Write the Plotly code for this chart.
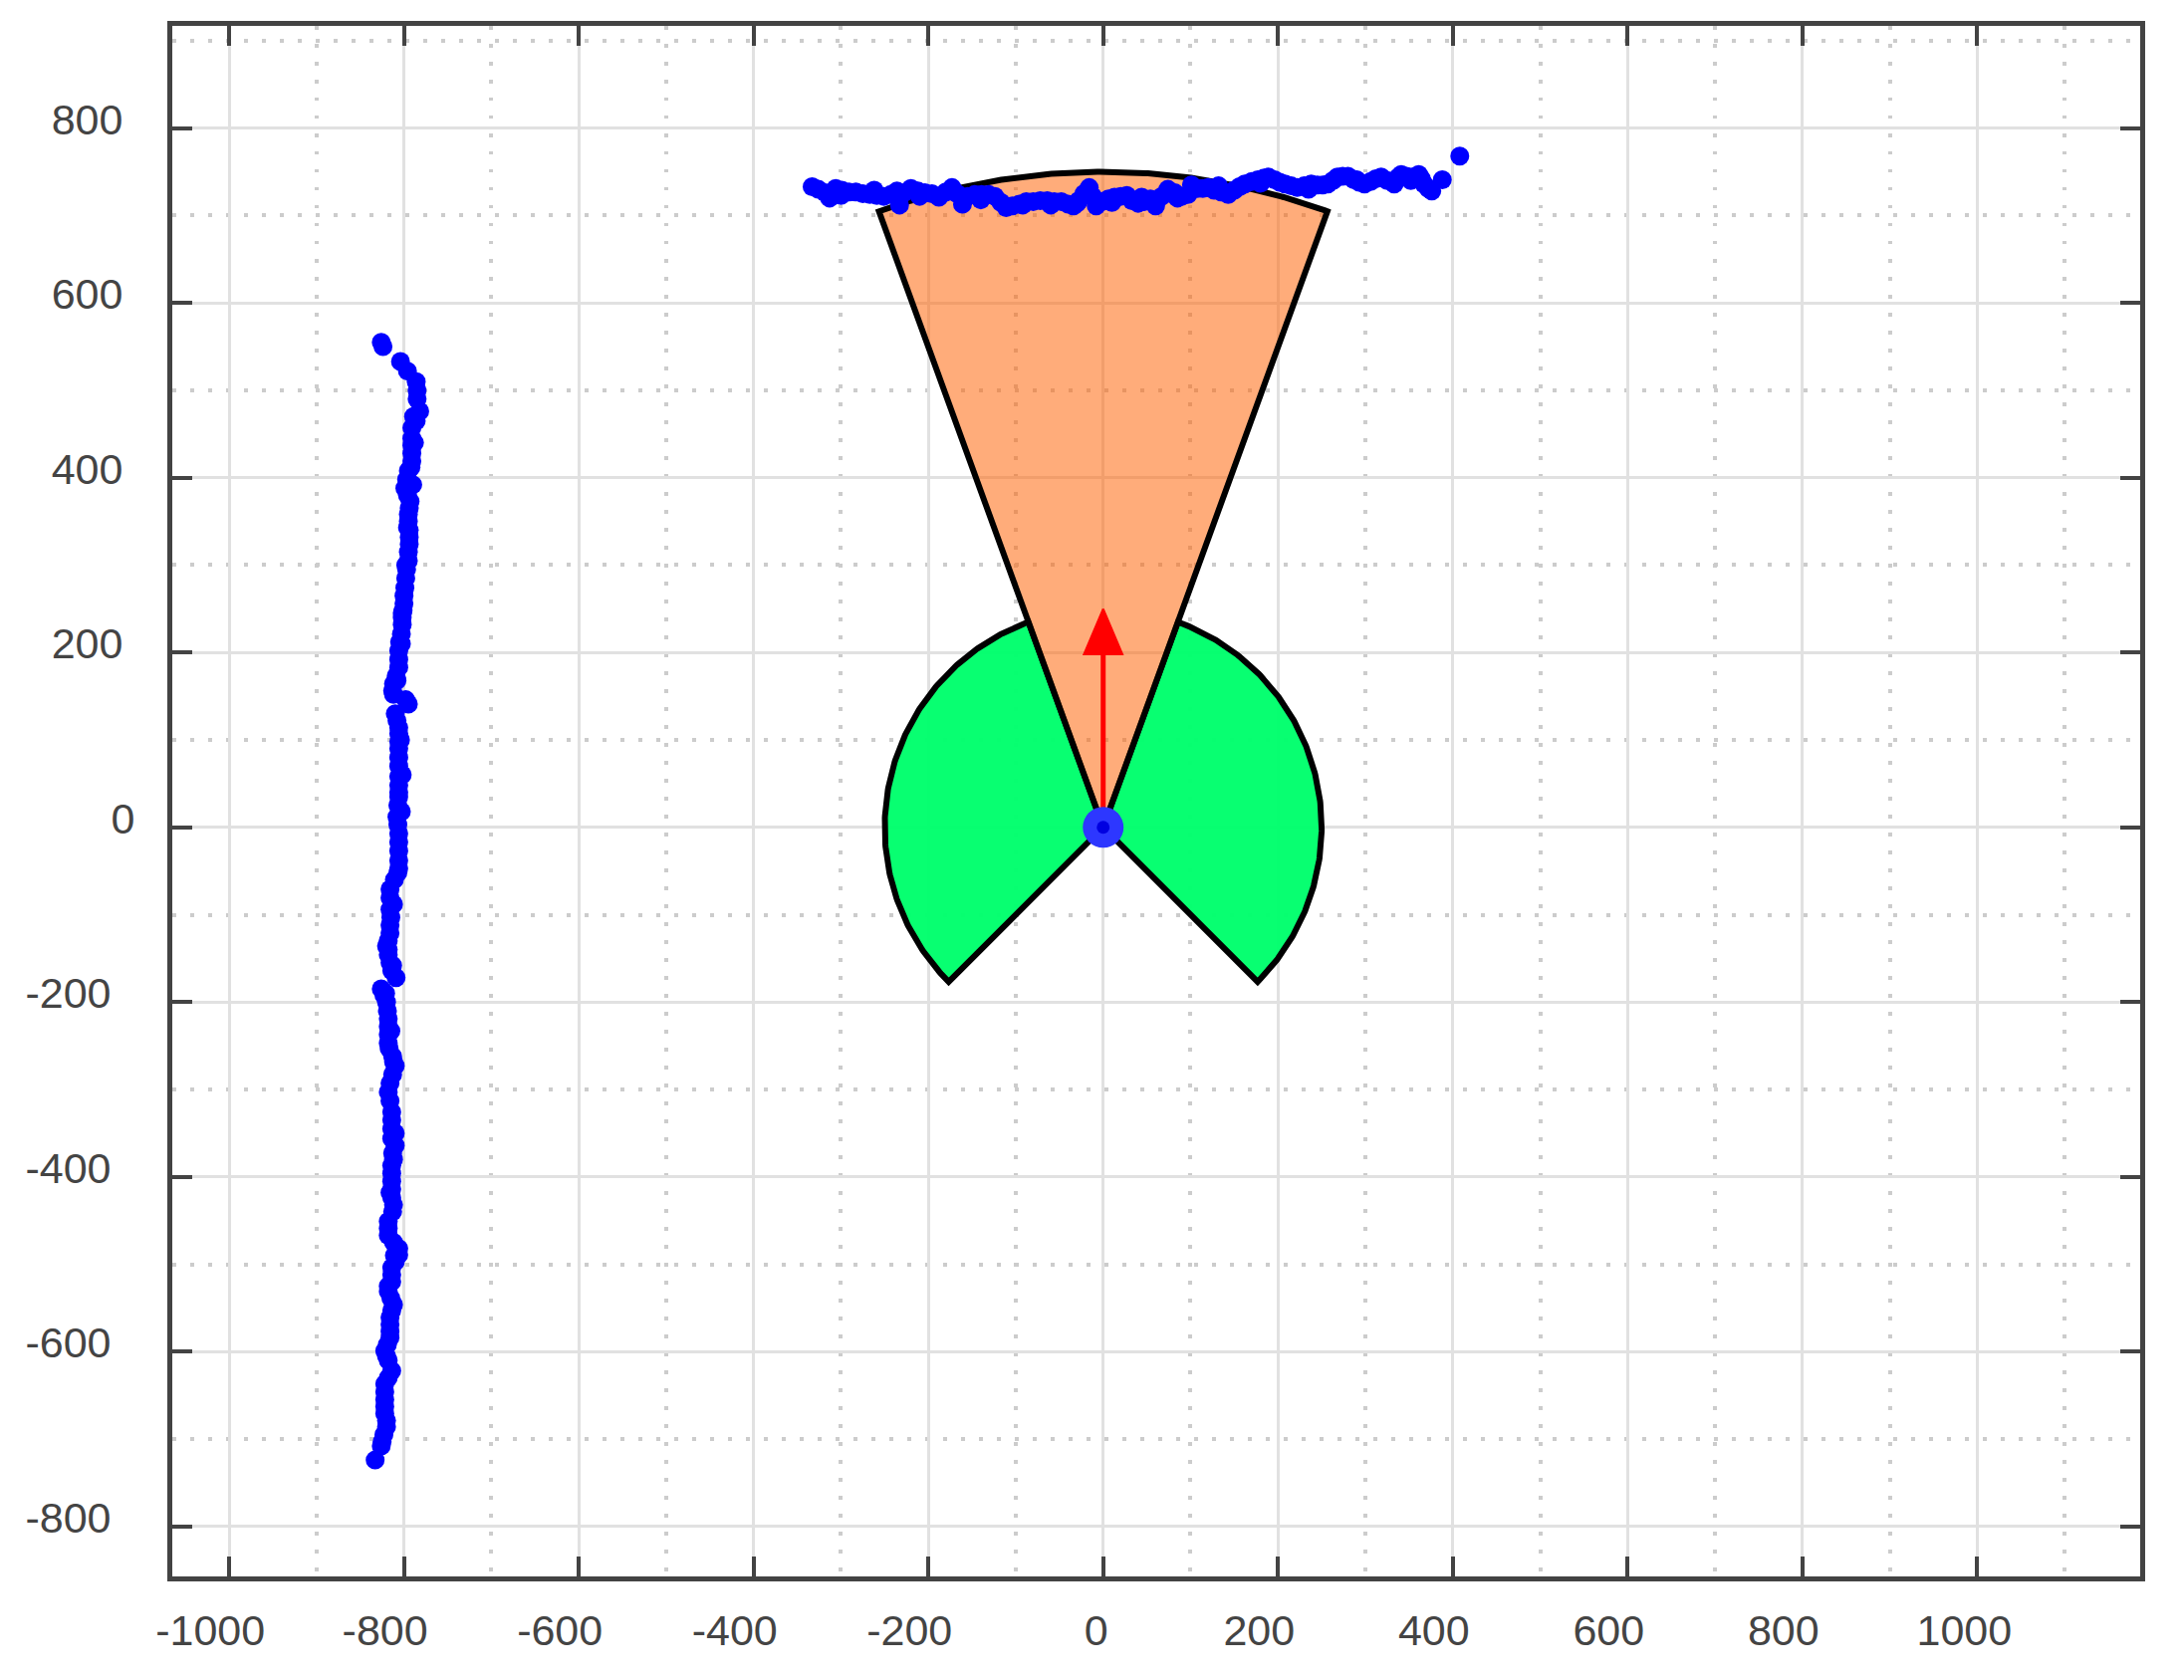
import numpy as np
import plotly.graph_objects as go

# ---------------- data ----------------
# left wall scan points (x, y)
wall_left_x = [-826, -824, -804, -796, -786, -785, -785, -782, -786, -791, -791, -791, -791, -791,
               -795, -797, -799, -796, -793, -794, -795, -795, -794, -794, -794, -795, -795,
               -797, -798, -799, -800, -800, -801, -802, -802, -803, -805, -806, -806, -806,
               -809, -812, -813, -812, -798, -795, -810, -808, -806, -806, -806, -806, -806,
               -806, -806, -806, -806, -806, -807, -808, -807, -806, -806, -806, -806, -806,
               -807, -811, -816, -816, -816, -815, -816, -816, -818, -820, -818, -816, -814,
               -809, -826, -823, -820, -819, -818, -818, -818, -818, -817, -813, -810, -813,
               -816, -818, -816, -814, -814, -814, -814, -810, -813, -814, -814, -814, -814,
               -814, -812, -813, -818, -818, -818, -812, -806, -806, -810, -814, -814, -814,
               -818, -815, -812, -814, -816, -816, -816, -816, -819, -822, -818, -814, -818,
               -822, -822, -822, -822, -822, -820, -820, -823, -825, -826, -833,
               -789, -788, -792, -790, -796, -798, -802, -803, -808, -804, -802, -803,
               -812, -818, -813, -821, -815, -812, -810, -812, -816, -811, -818, -820]
wall_left_y = [555, 550, 533, 522, 510, 500, 490, 476, 465, 457, 445, 437, 428, 419,
               408, 398, 388, 380, 373, 365, 358, 350, 340, 332, 324, 315, 305,
               295, 285, 274, 265, 256, 248, 240, 232, 221, 212, 202, 192, 183,
               173, 164, 156, 152, 146, 141, 130, 122, 114, 107, 98, 90, 80,
               70, 58, 48, 40, 35, 25, 12, 3, -7, -17, -27, -38, -47,
               -52, -60, -71, -81, -94, -103, -112, -121, -130, -136, -146, -155, -164,
               -172, -185, -192, -200, -210, -219, -228, -237, -247, -253, -262, -273, -283,
               -293, -303, -313, -326, -335, -345, -356, -364, -373, -387, -396, -405, -414,
               -424, -432, -440, -451, -459, -467, -475, -482, -489, -497, -504, -512, -520,
               -531, -539, -546, -553, -561, -569, -577, -584, -592, -599, -610, -622, -630,
               -637, -646, -655, -663, -671, -679, -686, -695, -703, -708, -724,
               470, 440, 412, 392, 343, 300, 245, 210, 168, 100, 60, 18,
               -88, -140, -158, -190, -233, -268, -350, -380, -418, -490, -525, -605]

# top wall scan points (x, y)
wall_top_x = [-333, -326, -318, -313, -306, -299, -291, -283, -275, -267, -259, -251, -243, -236,
              -233, -228, -220, -212, -204, -196, -188, -180, -173, -167, -161, -155, -147,
              -139, -131, -124, -117, -111, -104, -96, -88, -80, -72, -64, -56, -48, -40,
              -34, -28, -22, -16, -12, -8, -1, 6, 13, 20, 27, 33, 40, 47, 54, 60, 67, 74,
              82, 90, 97, 101, 108, 114, 120, 127, 135, 143, 150, 156, 162, 170, 177, 184,
              189, 196, 202, 208, 215, 222, 230, 238, 245, 251, 257, 263, 268, 274, 280,
              287, 293, 299, 306, 312, 318, 325, 333, 338, 341, 347, 354, 361, 364, 367,
              372, 376, 388, 408,
              -300, -262, -210, -160, -140, -92, -60, -30, 10, 44, 85, 132, 180, 235, 290, 352]
wall_top_y = [733, 730, 726, 720, 731, 729, 727, 727, 725, 724, 723, 722, 724, 728,
              712, 726, 731, 728, 726, 725, 721, 727, 732, 725, 713, 722, 724,
              724, 724, 722, 715, 709, 711, 713, 716, 716, 717, 717, 716, 716, 713,
              711, 717, 725, 732, 722, 711, 716, 719, 721, 722, 723, 717, 714, 716, 719, 711, 722, 730,
              726, 722, 724, 735, 731, 731, 732, 729, 727, 724, 729, 733, 736, 739, 741, 743,
              744, 741, 738, 736, 734, 732, 734, 736, 735, 735, 736, 740, 744, 745, 745,
              741, 738, 736, 739, 742, 744, 740, 736, 744, 747, 745, 744, 747, 742, 736,
              731, 728, 741, 768,
              723, 729, 722, 720, 718, 712, 712, 714, 715, 721, 720, 734, 737, 730, 741, 740]

# robot pose and sensor geometry
robot_x, robot_y = 0, 0
robot_heading_deg = 90
front_half_angle_deg = 20
front_range = 750
side_range = 250
side_left_deg = [110, 225]
side_right_deg = [-45, 70]
arrow_length = 250
arrow_head_length = 52
arrow_head_width = 44

# axis ticks
x_tick_vals = [-1000, -800, -600, -400, -200, 0, 200, 400, 600, 800, 1000]
x_tick_text = ["-1000", "-800", "-600", "-400", "-200", "\u00a0\u00a00", "200", "400", "600", "800",
               "\u00a01000"]
y_tick_vals = [-800, -600, -400, -200, 0, 200, 400, 600, 800]
y_tick_text = ["-800\u00a0\u00a0", "-600\u00a0\u00a0", "-400\u00a0\u00a0", "-200\u00a0\u00a0", "0",
               "200\u00a0", "400\u00a0", "600\u00a0", "800\u00a0"]
x_minor_vals = [-900, -700, -500, -300, -100, 100, 300, 500, 700, 900, 1100]
y_minor_vals = [-700, -500, -300, -100, 100, 300, 500, 700, 900]
x_range = [-1065.1, 1186.5]
y_range = [-857.2, 917.0]


def sector(a0, a1, r, n=200):
    t = np.radians(np.linspace(a0, a1, n))
    xs = np.concatenate([[robot_x], robot_x + r * np.cos(t), [robot_x]])
    ys = np.concatenate([[robot_y], robot_y + r * np.sin(t), [robot_y]])
    return xs, ys


fig = go.Figure()

# green side sectors
for a0, a1 in (side_left_deg, side_right_deg):
    sx, sy = sector(a0, a1, side_range)
    fig.add_trace(go.Scatter(x=sx, y=sy, mode="lines", fill="toself",
                             fillcolor="rgba(0,255,108,0.97)",
                             line=dict(color="black", width=6), hoverinfo="skip"))

# orange front sector
ox, oy = sector(robot_heading_deg - front_half_angle_deg,
                robot_heading_deg + front_half_angle_deg, front_range)
fig.add_trace(go.Scatter(x=ox, y=oy, mode="lines", fill="toself",
                         fillcolor="rgba(255,95,0,0.52)",
                         line=dict(color="black", width=6), hoverinfo="skip"))

# heading arrow
h = np.radians(robot_heading_deg)
ux, uy = np.cos(h), np.sin(h)
px_, py_ = -uy, ux
tip = (robot_x + arrow_length * ux, robot_y + arrow_length * uy)
base = (robot_x + (arrow_length - arrow_head_length) * ux,
        robot_y + (arrow_length - arrow_head_length) * uy)
fig.add_trace(go.Scatter(x=[robot_x, base[0]], y=[robot_y, base[1]], mode="lines",
                         line=dict(color="red", width=5), hoverinfo="skip"))
fig.add_trace(go.Scatter(
    x=[tip[0], base[0] + px_ * arrow_head_width / 2, base[0] - px_ * arrow_head_width / 2, tip[0]],
    y=[tip[1], base[1] + py_ * arrow_head_width / 2, base[1] - py_ * arrow_head_width / 2, tip[1]],
    mode="lines", fill="toself", fillcolor="red", line=dict(color="red", width=2),
    hoverinfo="skip"))

# robot position
fig.add_trace(go.Scatter(x=[robot_x], y=[robot_y], mode="markers",
                         marker=dict(size=41, color="rgb(45,55,255)", line=dict(width=0)),
                         hoverinfo="skip"))
fig.add_trace(go.Scatter(x=[robot_x], y=[robot_y], mode="markers",
                         marker=dict(size=13, color="rgb(0,0,225)", line=dict(width=0)),
                         hoverinfo="skip"))

# scan points
for wx, wy in ((wall_left_x, wall_left_y), (wall_top_x, wall_top_y)):
    fig.add_trace(go.Scatter(x=wx, y=wy, mode="markers",
                             marker=dict(size=19, color="#0000ff", line=dict(width=0)),
                             hoverinfo="skip"))

axis_common = dict(
    showline=True, linecolor="#434343", linewidth=5, mirror="ticks",
    ticks="inside", ticklen=20, tickwidth=4, tickcolor="#434343",
    showgrid=True, gridcolor="#e1e1e1", gridwidth=3,
    zeroline=False, tickmode="array",
    tickfont=dict(family="Liberation Sans, Arial, sans-serif", size=43, color="#444444"),
)

fig.update_xaxes(**axis_common, range=x_range, tickvals=x_tick_vals, ticktext=x_tick_text,
                 ticklabelstandoff=12, ticklabelshift=-19,
                 minor=dict(tickmode="array", tickvals=x_minor_vals, showgrid=True,
                            gridcolor="#cccccc", gridwidth=3.5, griddash="3.5px,14.5px", ticks=""))
fig.update_yaxes(**axis_common, range=y_range, tickvals=y_tick_vals, ticktext=y_tick_text,
                 ticklabelstandoff=24, ticklabelshift=-9,
                 minor=dict(tickmode="array", tickvals=y_minor_vals, showgrid=True,
                            gridcolor="#cccccc", gridwidth=3.5, griddash="3.5px,14.5px", ticks=""))

fig.update_layout(
    width=2185, height=1679,
    margin=dict(l=165, r=44, t=18, b=104, pad=0),
    plot_bgcolor="white", paper_bgcolor="white",
    showlegend=False,
)

fig.write_html("out.html")
